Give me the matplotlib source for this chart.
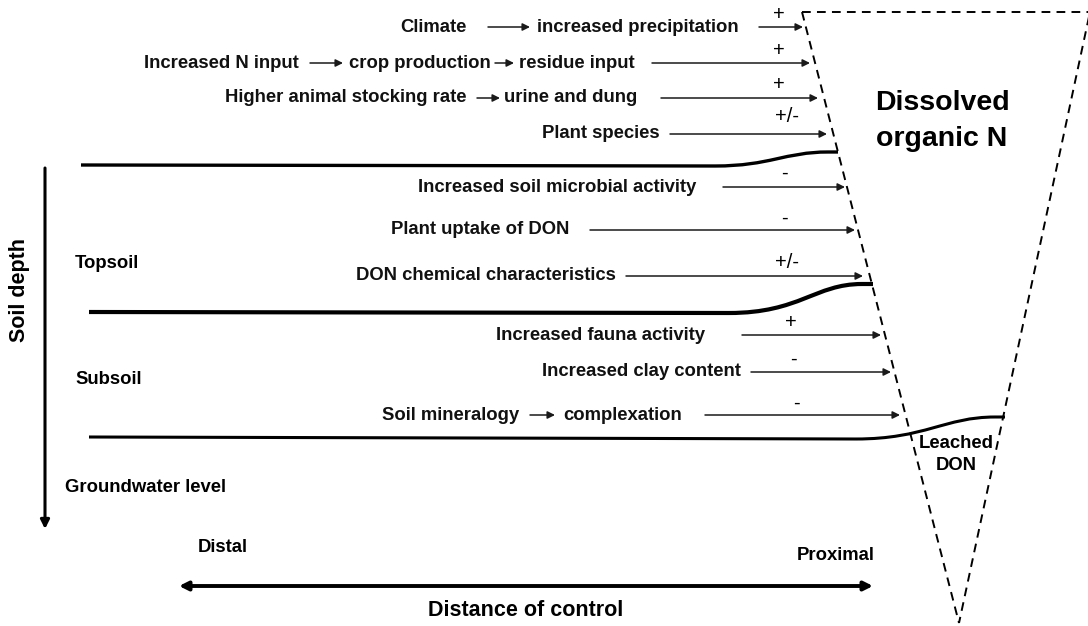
import matplotlib.pyplot as plt
from matplotlib.path import Path
from matplotlib.patches import PathPatch

plt.rcParams['font.family'] = ['Liberation Sans', 'DejaVu Sans']

# factor rows: text pieces, sign of the effect
factor_text = [["Climate", "increased precipitation"],
               ["Increased N input", "crop production", "residue input"],
               ["Higher animal stocking rate", "urine and dung"],
               ["Plant species"],
               ["Increased soil microbial activity"],
               ["Plant uptake of DON"],
               ["DON chemical characteristics"],
               ["Increased fauna activity"],
               ["Increased clay content"],
               ["Soil mineralogy", "complexation"]]
factor_sign = ["+", "+", "+", "+/-", "-", "-", "+/-", "+", "-", "-"]

# layout (pixel coords, y downwards)
row_y = [27, 63, 98, 134, 187, 230, 276, 335, 372, 415]
text_x = [[400, 537], [144, 349, 519], [225, 504], [542], [418], [391], [356],
          [496], [542], [382, 563]]
chain_x = [[(488, 530)], [(310, 343), (495, 514)], [(477, 500)], [], [], [], [],
           [], [], [(530, 555)]]
arrow_x0 = [759, 652, 661, 670, 723, 590, 626, 742, 751, 705]
arrow_x1 = [803, 810, 818, 827, 845, 855, 863, 881, 891, 900]
sign_x = [779, 779, 779, 787, 784, 784, 787, 791, 793, 796]
sign_y = [15, 50, 85, 116, 173, 218, 262, 323, 359, 403]

layer_labels = ["Topsoil", "Subsoil", "Groundwater level"]
layer_pos = [(75, 264), (75, 380), (65, 487)]

fig = plt.figure(figsize=(10.88, 6.26), dpi=100)
ax = fig.add_axes([0, 0, 1, 1])
ax.set_xlim(0, 1088)
ax.set_ylim(626, 0)
ax.axis('off')

FS = 13.3


def arrow(x0, y0, x1, y1, lw=1.1, ms=11, color='#1a1a1a'):
    ax.annotate('', xy=(x1, y1), xytext=(x0, y0),
                arrowprops=dict(arrowstyle='-|>', lw=lw, color=color,
                                mutation_scale=ms, shrinkA=0, shrinkB=0))


for i in range(len(factor_text)):
    y = row_y[i]
    for t, x in zip(factor_text[i], text_x[i]):
        ax.text(x, y, t, fontsize=FS, fontweight='bold', ha='left', va='center',
                color='#111111')
    for a, b in chain_x[i]:
        arrow(a, y, b, y)
    arrow(arrow_x0[i], y, arrow_x1[i], y)
    ax.text(sign_x[i], sign_y[i], factor_sign[i], fontsize=14.5, ha='center',
            va='center')

# dashed funnel
dash = (0, (4.5, 3.2))
ax.plot([802, 1092], [12, 12], color='black', lw=1.4, linestyle=dash)
ax.plot([802, 959], [12, 623], color='black', lw=1.4, linestyle=dash)
ax.plot([1090, 959], [12, 623], color='black', lw=1.4, linestyle=dash)

ax.text(942, 103, "Dissolved", fontsize=20.5, fontweight='bold',
        ha='center', va='center')
ax.text(942, 139, "organic N", fontsize=20.5, fontweight='bold',
        ha='center', va='center')
ax.text(956, 443, "Leached", fontsize=FS, fontweight='bold', ha='center', va='center')
ax.text(956, 465, "DON", fontsize=FS, fontweight='bold', ha='center', va='center')

# soil layer boundaries
boundaries = [
    ([(81, 165), (715, 166), (770, 166), (785, 152), (828, 152), (838, 152)], 2.4),
    ([(89, 312), (729, 313), (800, 313), (815, 284), (862, 284), (873, 284)], 3.0),
    ([(89, 437), (856, 439), (925, 439), (945, 417), (995, 417), (1005, 417)], 2.2),
]
for pts, lw in boundaries:
    codes = [Path.MOVETO, Path.LINETO, Path.CURVE4, Path.CURVE4, Path.CURVE4]
    codes += [Path.LINETO] * (len(pts) - len(codes))
    ax.add_patch(PathPatch(Path(pts, codes), fill=False, lw=lw, color='black',
                           capstyle='butt'))

for lab, (x, y) in zip(layer_labels, layer_pos):
    ax.text(x, y, lab, fontsize=FS, fontweight='bold', ha='left', va='center')

# soil depth axis
arrow(45, 168, 45, 529, lw=2.2, ms=13, color='black')
ax.text(20, 290, "Soil depth", fontsize=15.5, fontweight='bold', rotation=90,
        ha='center', va='center')

# distance of control axis
ax.annotate('', xy=(179, 586), xytext=(873, 586),
            arrowprops=dict(arrowstyle='<|-|>', lw=2.8, color='black',
                            mutation_scale=13, shrinkA=0, shrinkB=0))
ax.text(198, 548, "Distal", fontsize=FS, fontweight='bold', ha='left', va='center')
ax.text(875, 556, "Proximal", fontsize=FS, fontweight='bold', ha='right', va='center')
ax.text(526, 610, "Distance of control", fontsize=15.5, fontweight='bold',
        ha='center', va='center')

fig.savefig('out.png', dpi=100)
